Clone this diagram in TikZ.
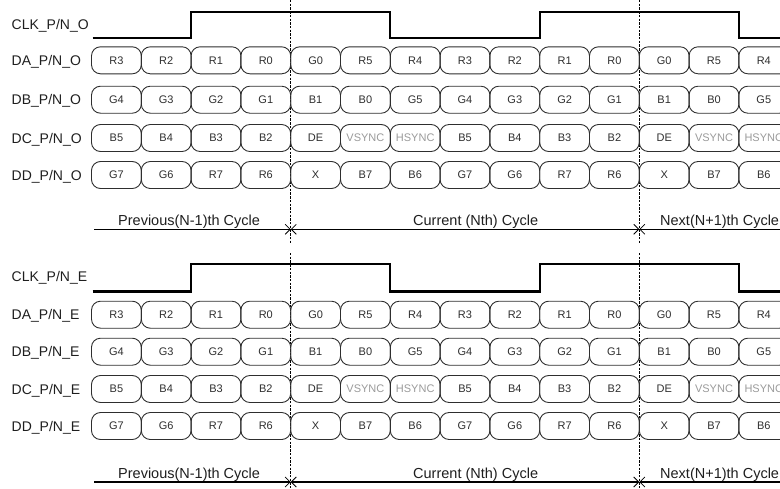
\documentclass[tikz,border=0pt]{standalone}
\usepackage{fontspec}
\setmainfont{Liberation Sans}
\usetikzlibrary{arrows.meta}
\definecolor{ink}{HTML}{1E1E1E}
\definecolor{cellink}{HTML}{2E2E2E}
\definecolor{syncgray}{HTML}{9A9A9A}
\newcommand\syncc[1]{\textcolor{syncgray}{#1}}
\begin{document}
\begin{tikzpicture}[x=1pt,y=-1pt,
  cell/.style={draw=cellink, line width=0.9pt, rounded corners=9pt,
    minimum width=49.8pt, minimum height=27pt, inner sep=0pt,
    font=\fontsize{11}{13}\selectfont, text=cellink, text height=7.9pt, text depth=0pt},
  sig/.style={font=\fontsize{14}{16}\selectfont, text=ink, anchor=west, inner sep=0pt,
    text height=10pt, text depth=0pt},
  cyc/.style={font=\fontsize{14.5}{16}\selectfont, text=ink, anchor=base west, inner sep=0pt},
  clk/.style={draw=black, line width=2.2pt},
  divider/.style={draw=black, line width=1.4pt, dash pattern=on 2.4pt off 1.3pt},
  cycline/.style={draw=black, line width=1.2pt},
  barb/.tip={Straight Barb[length=5pt,width=10pt,line width=0.8pt]}
]
\useasboundingbox (0,0) rectangle (780,488);
\clip (0,0) rectangle (780,488);

% ---------- helper values ----------
\def\xo{91.5}
\def\cw{49.8}

% ---------- dividers ----------
\coordinate (d1t) at (290.7,0);
\coordinate (d1m) at (290.7,243);
\coordinate (d1n) at (290.7,253);
\coordinate (d1b) at (290.7,488);
\coordinate (d2t) at (639.3,0);
\coordinate (d2m) at (639.3,243);
\coordinate (d2n) at (639.3,253);
\coordinate (d2b) at (639.3,488);
\draw[divider] (d1t) -- (d1m);
\draw[divider] (d1n) -- (d1b);
\draw[divider] (d2t) -- (d2m);
\draw[divider] (d2n) -- (d2b);

% ---------- two halves ----------
\foreach \half/\sfx/\clo/\chi/\ra/\rb/\rc/\rd/\lclk/\lyline/\lybase in
   {O/O/37.7/11.7/60.3/99.7/138/175/24/229.3/225.5,
    E/E/291.5/264/314.7/351.7/389/426/276.7/482/478}{
  % signal labels
  \node[sig] (clk\half) at (11.5,\lclk) {CLK\_P/N\_\sfx};
  \node[sig] (da\half) at (11.5,\ra) {DA\_P/N\_\sfx};
  \node[sig] (db\half) at (11.5,\rb) {DB\_P/N\_\sfx};
  \node[sig] (dc\half) at (11.5,\rc) {DC\_P/N\_\sfx};
  \node[sig] (dd\half) at (11.5,\rd) {DD\_P/N\_\sfx};
  % clock waveform
  \draw[clk] (92.7,\clo) -- (191.1,\clo) -- (191.1,\chi) -- (390.3,\chi) -- (390.3,\clo)
     -- (539.7,\clo) -- (539.7,\chi) -- (738.9,\chi) -- (738.9,\clo) -- (800,\clo);
  % data rows
  \foreach \t [count=\i from 0] in {R3,R2,R1,R0,G0,R5,R4,R3,R2,R1,R0,G0,R5,R4}
    \node[cell] (a\half\i) at (\xo+\cw*\i+\cw/2,\ra) {\t};
  \foreach \t [count=\i from 0] in {G4,G3,G2,G1,B1,B0,G5,G4,G3,G2,G1,B1,B0,G5}
    \node[cell] (b\half\i) at (\xo+\cw*\i+\cw/2,\rb) {\t};
  \foreach \t [count=\i from 0] in {B5,B4,B3,B2,DE,{\syncc{VSYNC}},{\syncc{HSYNC}},B5,B4,B3,B2,DE,{\syncc{VSYNC}},{\syncc{HSYNC}}}
    \node[cell] (c\half\i) at (\xo+\cw*\i+\cw/2,\rc) {\t};
  \foreach \t [count=\i from 0] in {G7,G6,R7,R6,X,B7,B6,G7,G6,R7,R6,X,B7,B6}
    \node[cell] (e\half\i) at (\xo+\cw*\i+\cw/2,\rd) {\t};
  % cycle line
  \coordinate (cs\half) at (94,\lyline);
  \coordinate (ca\half) at (290.7,\lyline);
  \coordinate (cb\half) at (639.3,\lyline);
  \coordinate (ce\half) at (800,\lyline);
  \draw[cycline,-barb] (cs\half) -- (ca\half);
  \draw[cycline,barb-barb] (ca\half) -- (cb\half);
  \draw[cycline,barb-] (cb\half) -- (ce\half);
  \node[cyc] (prev\half) at (118,\lybase) {Previous(N-1)th Cycle};
  \node[cyc] (cur\half) at (413,\lybase) {Current (Nth) Cycle};
  \node[cyc] (next\half) at (660,\lybase) {Next(N+1)th Cycle};
}
\end{tikzpicture}
\end{document}
